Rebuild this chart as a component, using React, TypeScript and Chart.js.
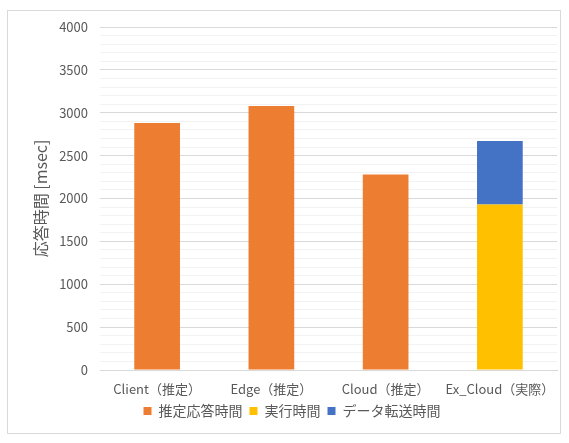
import React, { useEffect, useRef } from "react";
import { Chart, registerables } from "chart.js";

Chart.register(...registerables);

const categories = ["Client（推定）", "Edge（推定）", "Cloud（推定）", "Ex_Cloud（実際）"];
const estimated = [2880, 3080, 2280, null];
const execution = [null, null, null, 1930];
const transfer = [null, null, null, 740];
const seriesNames = ["推定応答時間", "実行時間", "データ転送時間"];

const FONT = "'Noto Sans CJK JP', 'Noto Sans', sans-serif";

export default function App() {
  const ref = useRef<HTMLCanvasElement | null>(null);
  useEffect(() => {
    if (!ref.current) return;
    const chart = new Chart(ref.current, {
      type: "bar",
      data: {
        labels: categories,
        datasets: [
          { label: seriesNames[0], data: estimated, backgroundColor: "#ED7D31", barPercentage: 0.8, categoryPercentage: 0.5 },
          { label: seriesNames[1], data: execution, backgroundColor: "#FFC000", barPercentage: 0.8, categoryPercentage: 0.5 },
          { label: seriesNames[2], data: transfer, backgroundColor: "#4472C4", barPercentage: 0.8, categoryPercentage: 0.5 },
        ],
      },
      options: {
        animation: false,
        responsive: false,
        layout: { padding: { left: 27, right: 12, top: 27, bottom: 15 } },
        plugins: {
          legend: {
            position: "bottom",
            labels: { boxWidth: 8, boxHeight: 8, color: "#595959", font: { family: FONT, size: 14 }, padding: 7 },
          },
          tooltip: { enabled: false },
        },
        scales: {
          x: {
            stacked: true,
            grid: { display: false, drawTicks: false },
            border: { display: true, color: "#d9d9d9" },
            ticks: { color: "#595959", font: { family: FONT, size: 13 }, maxRotation: 0, autoSkip: false, padding: 11 },
            afterFit: (scale: any) => {
              scale.height = 27;
            },
          },
          y: {
            stacked: true,
            min: 0,
            max: 4000,
            border: { display: false },
            grid: {
              color: (ctx: any) => (ctx.tick && ctx.tick.value % 500 === 0 ? "#d9d9d9" : "#f2f2f2"),
              drawTicks: false,
            },
            ticks: {
              stepSize: 100,
              autoSkip: false,
              color: "#595959",
              font: { family: FONT, size: 13 },
              padding: 12,
              callback: (v: any) => (Number(v) % 500 === 0 ? String(v) : ""),
            },
            title: {
              display: true,
              text: "応答時間 [msec]",
              color: "#595959",
              font: { family: FONT, size: 16 },
              padding: { top: 4, bottom: 8 },
            },
            afterFit: (scale: any) => {
              scale.width = 73;
            },
          },
        },
      },
    });
    return () => chart.destroy();
  }, []);
  return (
    <div style={{ position: "absolute", left: 0, top: 0, width: 569, height: 443 }}>
      <div
        style={{
          position: "absolute",
          left: 7,
          top: 10,
          width: 554,
          height: 424,
          border: "1px solid #d9d9d9",
          boxSizing: "border-box",
        }}
      />
      <canvas ref={ref} width={569} height={443} style={{ position: "absolute", left: 0, top: 0 }} />
    </div>
  );
}
